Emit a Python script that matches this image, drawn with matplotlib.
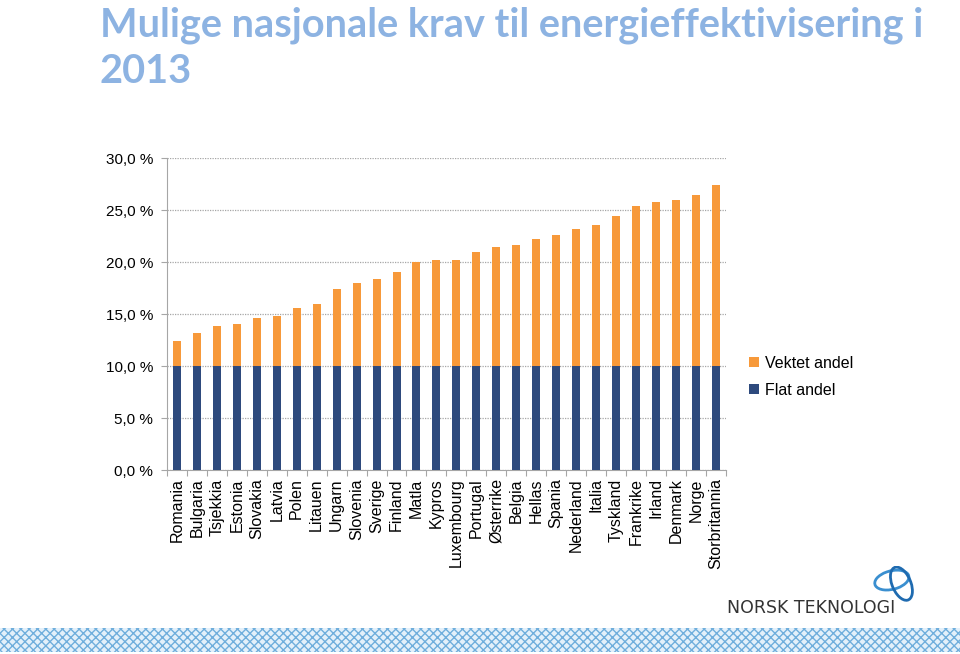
import matplotlib
matplotlib.use("Agg")
import matplotlib.pyplot as plt
import numpy as np
from matplotlib.patches import Rectangle, Ellipse

countries = ["Romania", "Bulgaria", "Tsjekkia", "Estonia", "Slovakia", "Latvia", "Polen",
             "Litauen", "Ungarn", "Slovenia", "Sverige", "Finland", "Matla", "Kypros",
             "Luxembourg", "Portugal", "Østerrike", "Belgia", "Hellas", "Spania",
             "Nederland", "Italia", "Tyskland", "Frankrike", "Irland", "Denmark", "Norge",
             "Storbritannia"]
flat = [10.0] * 28
total = [12.4, 13.2, 13.8, 14.0, 14.6, 14.8, 15.6, 16.0, 17.4, 18.0, 18.4, 19.0, 20.0, 20.2,
         20.2, 21.0, 21.4, 21.6, 22.2, 22.6, 23.2, 23.6, 24.4, 25.4, 25.8, 26.0, 26.4, 27.4]
weighted = [t - f for t, f in zip(total, flat)]
yticks = [0, 5, 10, 15, 20, 25, 30]
ytick_labels = ["0,0 %", "5,0 %", "10,0 %", "15,0 %", "20,0 %", "25,0 %", "30,0 %"]

plt.rcParams['font.family'] = ['Liberation Sans', 'DejaVu Sans']
fig = plt.figure(figsize=(9.6, 6.54), dpi=100)
ax = fig.add_axes([0.174, 0.2813, 0.582, 0.4771])

navy = "#2E4A7D"
orange = "#F7993A"
x = np.arange(len(countries))
ax.bar(x, flat, width=0.4, color=navy, label="Flat andel", zorder=3)
ax.bar(x, weighted, bottom=flat, width=0.4, color=orange, label="Vektet andel", zorder=3)

ax.set_xlim(-0.5, len(countries) - 0.5)
ax.set_ylim(0, 30)
ax.set_yticks(yticks)
ax.set_yticklabels(ytick_labels, fontsize=11)
ax.yaxis.grid(True, linestyle=(0, (1, 1)), color="#A6A6A6", linewidth=0.9, zorder=0)
ax.set_xticks(np.arange(-0.5, len(countries), 1.0), minor=False)
ax.set_xticklabels([])
ax.set_xticks(x, minor=True)
ax.set_xticklabels(countries, minor=True, rotation=90, fontsize=11.5)
ax.tick_params(axis='x', which='minor', length=0, pad=6)
ax.tick_params(axis='x', which='major', length=4, color="#A6A6A6")
ax.tick_params(axis='y', length=4, color="#A6A6A6", pad=6)
for s in ["top", "right"]:
    ax.spines[s].set_visible(False)
for s in ["left", "bottom"]:
    ax.spines[s].set_color("#A6A6A6")

h, l = ax.get_legend_handles_labels()
fig.legend(h[::-1], l[::-1], loc="upper left", bbox_to_anchor=(0.765, 0.478),
           frameon=False, fontsize=11.5, handlelength=0.65, handleheight=0.65,
           handletextpad=0.35, labelspacing=0.75)

fig.text(0.104, 0.99, "Mulige nasjonale krav til energieffektivisering i\n2013",
         fontsize=28.6, fontweight="bold", color="#8DB3E2", family="Lato",
         va="top", ha="left", linespacing=1.3)

# logo
fig.text(0.757, 0.071, "NORSK TEKNOLOGI", fontsize=12.5, color="#333333",
         ha="left", va="center", family="DejaVu Sans")
la = fig.add_axes([0.908, 0.08, 0.05, 0.055])
la.set_xlim(0, 1); la.set_ylim(0, 1); la.axis("off")
la.add_patch(Ellipse((0.42, 0.6), 0.75, 0.5, angle=25, fill=False, ec="#3A8FD0", lw=2))
la.add_patch(Ellipse((0.62, 0.5), 0.4, 0.95, angle=15, fill=False, ec="#1F6BB0", lw=2))

# bottom band
bx = fig.add_axes([0, 0.003, 1, 0.037])
bx.axis("off")
bx.add_patch(Rectangle((0, 0), 1, 1, transform=bx.transAxes, facecolor="#E3F0FA",
                       edgecolor="#6FAEDC", hatch="xxxx", lw=0))

fig.savefig("out.png", dpi=100)
